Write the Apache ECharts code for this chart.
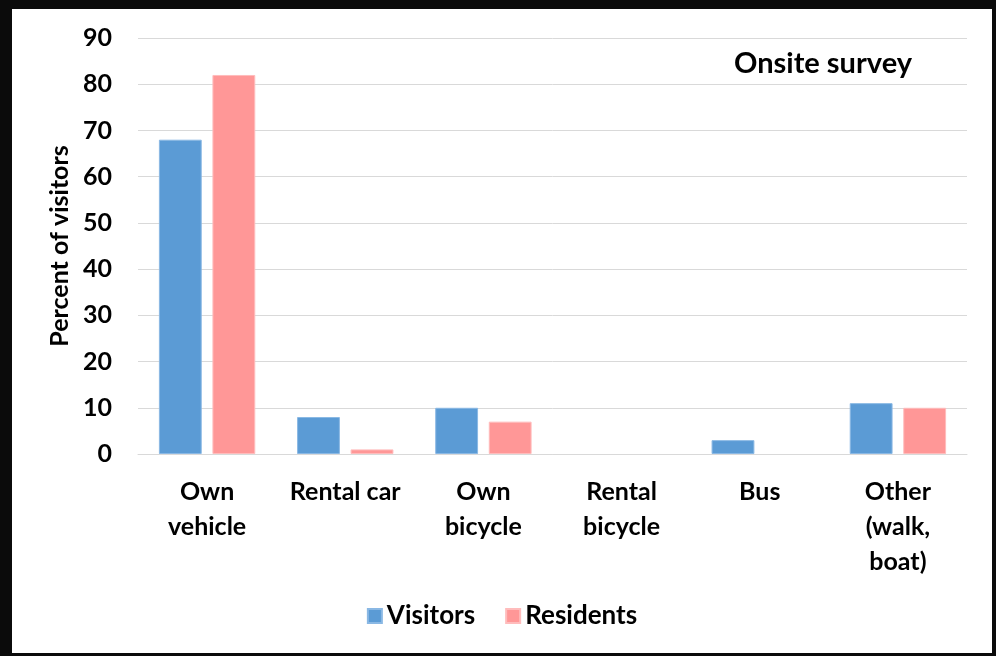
<!DOCTYPE html>
<html>
<head>
<meta charset="utf-8">
<script src="https://cdn.jsdelivr.net/npm/echarts@6/dist/echarts.min.js"></script>
<style>
  html, body { margin: 0; padding: 0; background: #0b0b0b; }
  #chart {
    position: absolute;
    left: 12px;
    top: 9px;
    width: 980px;
    height: 644px;
    background: #ffffff;
  }
</style>
</head>
<body>
<div id="chart"></div>
<script>
const categories = [
  "Own\nvehicle",
  "Rental car",
  "Own\nbicycle",
  "Rental\nbicycle",
  "Bus",
  "Other\n(walk,\nboat)",
];
const visitors = [68, 8, 10, 0, 3, 11];
const residents = [82, 1, 7, 0, 0, 10];

const FONT = "Lato, 'Open Sans', sans-serif";

// zero bars shouldn't get a hairline border
const toBarData = (arr) =>
  arr.map((v) => (v === 0 ? { value: v, itemStyle: { borderWidth: 0 } } : v));

const chart = echarts.init(document.getElementById("chart"));

const option = {
  backgroundColor: "#ffffff",
  animation: false,
  title: {
    text: "Onsite survey",
    right: 75,
    top: 35,
    textStyle: {
      fontFamily: FONT,
      fontSize: 29,
      fontWeight: "bold",
      color: "#000",
    },
  },
  legend: {
    data: ["Visitors", "Residents"],
    top: 589,
    left: "center",
    itemWidth: 14,
    itemHeight: 14,
    itemGap: 30,
    icon: "rect",
    textStyle: {
      fontFamily: FONT,
      fontSize: 26,
      fontWeight: "bold",
      color: "#000",
    },
  },
  grid: {
    left: 126,
    right: 25,
    top: 29,
    bottom: 199,
  },
  xAxis: {
    type: "category",
    data: categories,
    axisLine: { lineStyle: { color: "#d9d9d9", width: 1 } },
    axisTick: { show: false },
    axisLabel: {
      fontFamily: FONT,
      fontSize: 25,
      fontWeight: "bold",
      color: "#000",
      lineHeight: 35,
      margin: 20,
      interval: 0,
    },
  },
  yAxis: {
    type: "value",
    min: 0,
    max: 90,
    interval: 10,
    name: "Percent of visitors",
    nameLocation: "middle",
    nameGap: 66,
    nameTextStyle: {
      fontFamily: FONT,
      fontSize: 25,
      fontWeight: "bold",
      color: "#000",
    },
    axisLine: { show: false },
    axisTick: { show: false },
    axisLabel: {
      fontFamily: FONT,
      fontSize: 25,
      fontWeight: "bold",
      color: "#000",
      margin: 26,
    },
    splitLine: { lineStyle: { color: "#d9d9d9", width: 1 } },
  },
  series: [
    {
      name: "Visitors",
      type: "bar",
      data: toBarData(visitors),
      barWidth: "31%",
      barGap: "25%",
      itemStyle: {
        color: "#5b9bd5",
        borderColor: "#8ab8e4",
        borderWidth: 1,
      },
    },
    {
      name: "Residents",
      type: "bar",
      data: toBarData(residents),
      barWidth: "31%",
      itemStyle: {
        color: "#ff9797",
        borderColor: "#ffbcbc",
        borderWidth: 1,
      },
    },
  ],
};

chart.setOption(option);
</script>
</body>
</html>
